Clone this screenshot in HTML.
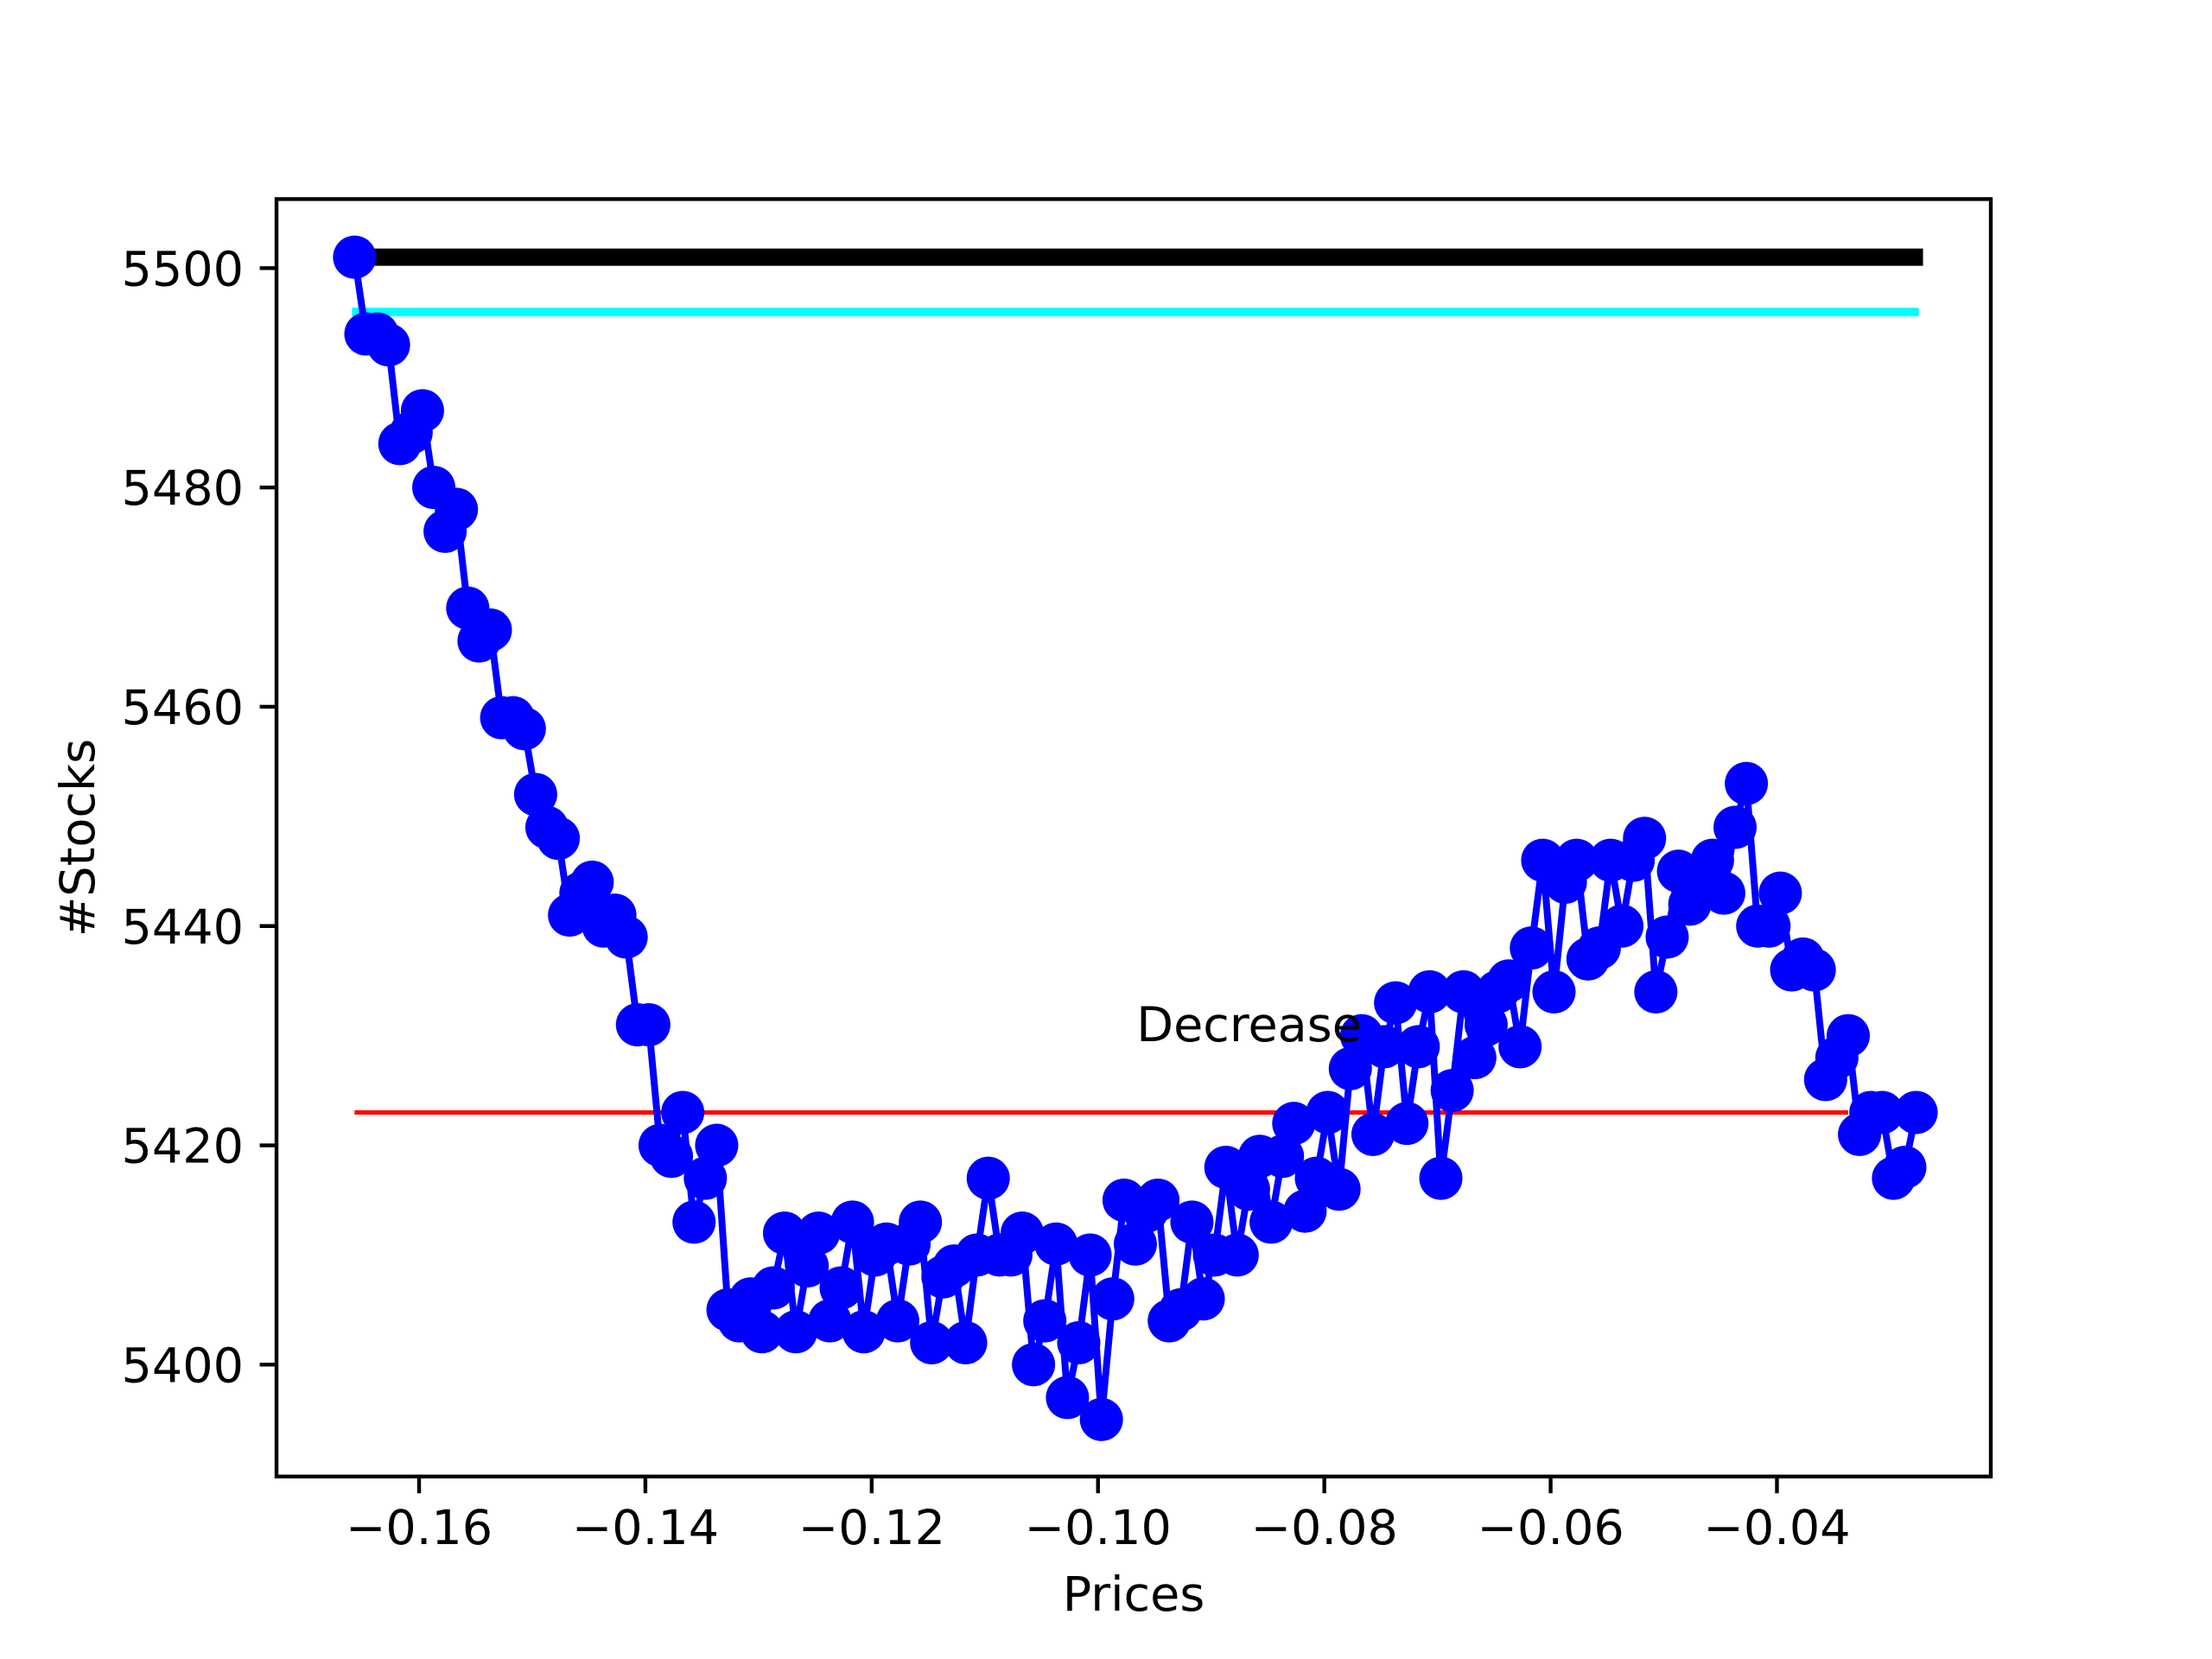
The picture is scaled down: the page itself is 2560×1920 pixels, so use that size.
<!DOCTYPE html>
<html><head><meta charset="utf-8"><style>html,body{margin:0;padding:0;background:#fff}svg{display:block}text{font-family:"DejaVu Sans","Liberation Sans",sans-serif;fill:#000}</style></head>
<body>
<svg id="chart" width="2560" height="1920" viewBox="0 0 2560 1920" xmlns="http://www.w3.org/2000/svg"></svg>
<script>
const stockCounts = [5501,5494,5494,5493,5484,5485,5487,5480,5476,5478,
5469,5466,5467,5459,5459,5458,5452,5449,5448,5441,
5443,5444,5440,5441,5439,5431,5431,5420,5419,5423,
5413,5417,5420,5405,5404,5406,5403,5407,5412,5403,
5409,5412,5404,5407,5413,5403,5410,5411,5404,5411,
5413,5402,5408,5409,5402,5410,5417,5410,5410,5412,
5400,5404,5411,5397,5402,5410,5395,5406,5415,5411,
5414,5415,5404,5405,5413,5406,5410,5418,5410,5416,
5419,5413,5419,5422,5414,5417,5423,5416,5427,5430,
5421,5429,5433,5422,5429,5434,5417,5425,5434,5428,
5431,5434,5435,5429,5438,5446,5434,5444,5446,5437,
5438,5446,5440,5446,5448,5434,5439,5445,5442,5444,
5446,5443,5449,5453,5440,5440,5443,5436,5437,5436,
5426,5428,5430,5421,5423,5423,5417,5418,5423];
const priceStart = -0.1657;
const priceStep = 0.001;
const xTicks = [-0.16,-0.14,-0.12,-0.10,-0.08,-0.06,-0.04];
const xTickLabels = ["\u22120.16","\u22120.14","\u22120.12","\u22120.10","\u22120.08","\u22120.06","\u22120.04"];
const yTicks = [5400,5420,5440,5460,5480,5500];
const yTickLabels = ["5400","5420","5440","5460","5480","5500"];
const maxLevel = [5501];
const cyanLevel = [5496];
const redLevel = [5423];
const annotation = ["Decrease", -0.0966, 5429.5];

const NS="http://www.w3.org/2000/svg";
const svg=document.getElementById('chart');
const L=320,R=2304,T=230.4,B=1708.8;
const xMin=-0.1726,xMax=-0.0211,yMin=5389.8,yMax=5506.3;
const sx=v=>L+(v-xMin)/(xMax-xMin)*(R-L);
const sy=v=>B-(v-yMin)/(yMax-yMin)*(B-T);
function el(tag,attrs,parent){const e=document.createElementNS(NS,tag);for(const k in attrs)e.setAttribute(k,attrs[k]);(parent||svg).appendChild(e);return e;}

const prices = stockCounts.map((_,i)=>priceStart+i*priceStep);
const x0=sx(prices[0]), xEnd=sx(prices[prices.length-1]);

let ln=el('line',{x1:x0,x2:xEnd+8,y1:sy(maxLevel[0]),y2:sy(maxLevel[0]),stroke:'#000','stroke-width':20});


ln=el('line',{x1:x0-3,x2:xEnd+3,y1:sy(cyanLevel[0]),y2:sy(cyanLevel[0]),stroke:'#00ffff','stroke-width':10});


ln=el('line',{x1:x0,x2:sx(-0.0337),y1:sy(redLevel[0]),y2:sy(redLevel[0]),stroke:'#ff0000','stroke-width':5});



const pts=stockCounts.map((v,i)=>sx(prices[i]).toFixed(1)+','+sy(v).toFixed(1)).join(' ');
const pl=el('polyline',{points:pts,fill:'none',stroke:'#0000ff','stroke-width':8,'stroke-linejoin':'round'});


stockCounts.forEach((v,i)=>{
  const c=el('circle',{cx:sx(prices[i]),cy:sy(v),r:25,fill:'#0000ff'});
  
  
});

const an=el('text',{x:sx(annotation[1]),y:sy(annotation[2]),'font-size':55.6});
an.textContent=annotation[0];



const fr=el('rect',{x:L,y:T,width:R-L,height:B-T,fill:'none',stroke:'#000','stroke-width':4.4});



xTicks.forEach((t,i)=>{
  const x=sx(t);
  const tk=el('line',{x1:x,x2:x,y1:B,y2:B+19.4,stroke:'#000','stroke-width':4.4});
  
  
  const tx=el('text',{x:x,y:B+78,'font-size':55.6,'text-anchor':'middle'});
  tx.textContent=xTickLabels[i];
  
  
});
yTicks.forEach((t,i)=>{
  const y=sy(t);
  const tk=el('line',{x1:L-19.4,x2:L,y1:y,y2:y,stroke:'#000','stroke-width':4.4});
  
  
  const tx=el('text',{x:L-38,y:y+20,'font-size':55.6,'text-anchor':'end'});
  tx.textContent=yTickLabels[i];
  
  
});
const xl=el('text',{x:(L+R)/2,y:1864,'font-size':55.6,'text-anchor':'middle'});
xl.textContent='Prices';


const yl=el('text',{x:0,y:0,'font-size':55.6,'text-anchor':'middle',transform:'translate(109,'+((T+B)/2)+') rotate(-90)'});
yl.textContent='#Stocks';


</script>
</body></html>
